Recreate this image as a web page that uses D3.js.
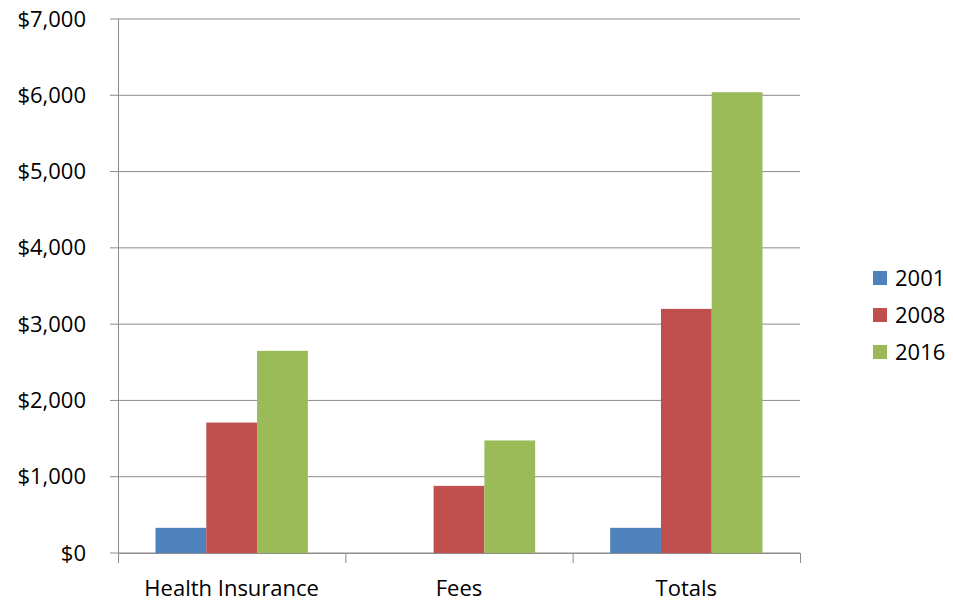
<!DOCTYPE html>
<html>
<head>
<meta charset="utf-8">
<script src="https://cdn.jsdelivr.net/npm/d3@7"></script>
<style>
  body { margin: 0; background: #fff; }
  svg text { font-family: "Open Sans", "Noto Sans", sans-serif; fill: #000; }
</style>
</head>
<body>
<div id="chart"></div>
<script>
// chart data
const categories = ['Health Insurance', 'Fees', 'Totals'];
const seriesNames = ['2001', '2008', '2016'];
const values2001 = [330, 0, 330];
const values2008 = [1710, 880, 3200];
const values2016 = [2650, 1475, 6040];
const yTicks = [0, 1000, 2000, 3000, 4000, 5000, 6000, 7000];
const colors = ['#4F81BD', '#C0504D', '#9BBB59'];

const seriesValues = [values2001, values2008, values2016];

const width = 953, height = 601;
const plot = { left: 118, right: 800, top: 19, bottom: 553 };
const fontSize = '22px';

const svg = d3.select('#chart').append('svg')
  .attr('width', width)
  .attr('height', height);

const x = d3.scaleBand()
  .domain(categories)
  .range([plot.left, plot.right])
  .paddingInner(0.33)
  .paddingOuter(0.165);

const xOuter = d3.scaleBand()
  .domain(categories)
  .range([plot.left, plot.right]);

const xSub = d3.scaleBand()
  .domain(seriesNames)
  .range([0, x.bandwidth()]);

const y = d3.scaleLinear()
  .domain([0, 7000])
  .range([plot.bottom, plot.top]);

// gridlines
svg.append('g')
  .selectAll('line')
  .data(yTicks)
  .join('line')
  .attr('x1', plot.left - 8)
  .attr('x2', plot.right)
  .attr('y1', d => y(d))
  .attr('y2', d => y(d))
  .attr('stroke', '#8c8c8c')
  .attr('stroke-width', 1);

// y axis
const yAxis = svg.append('g')
  .attr('transform', `translate(${plot.left},0)`)
  .call(d3.axisLeft(y).tickValues(yTicks).tickSize(0).tickPadding(32)
    .tickFormat(d => '$' + d3.format(',')(d)));
yAxis.select('.domain').attr('stroke', '#8c8c8c').attr('d', `M0.5,${plot.top}V${plot.bottom + 10}`);
yAxis.selectAll('text').style('font-size', fontSize);

// bars
categories.forEach((cat, ci) => {
  svg.append('g')
    .selectAll('rect')
    .data(seriesNames.map((s, si) => ({ s, v: seriesValues[si][ci], c: colors[si] })))
    .join('rect')
    .attr('x', d => x(cat) + xSub(d.s))
    .attr('width', xSub.bandwidth())
    .attr('y', d => y(d.v))
    .attr('height', d => y(0) - y(d.v))
    .attr('fill', d => d.c);
});

// x axis
const boundaries = categories.map(c => xOuter(c)).concat([plot.right]);
svg.append('line')
  .attr('x1', plot.left).attr('x2', plot.right)
  .attr('y1', plot.bottom + 0.5).attr('y2', plot.bottom + 0.5)
  .attr('stroke', '#8c8c8c');
svg.append('g')
  .selectAll('line')
  .data(boundaries)
  .join('line')
  .attr('x1', d => d + 0.5).attr('x2', d => d + 0.5)
  .attr('y1', plot.bottom).attr('y2', plot.bottom + 10)
  .attr('stroke', '#8c8c8c');
svg.append('g')
  .selectAll('text')
  .data(categories)
  .join('text')
  .attr('x', d => xOuter(d) + xOuter.bandwidth() / 2)
  .attr('y', 596)
  .attr('text-anchor', 'middle')
  .style('font-size', fontSize)
  .text(d => d);

// legend
const legend = svg.append('g').attr('transform', 'translate(873,278)');
seriesNames.forEach((s, i) => {
  const row = legend.append('g').attr('transform', `translate(0,${i * 37})`);
  row.append('rect').attr('x', 0).attr('y', -7).attr('width', 14).attr('height', 14).attr('fill', colors[i]);
  row.append('text').attr('x', 22).attr('y', 8).style('font-size', fontSize).text(s);
});
</script>
</body>
</html>
